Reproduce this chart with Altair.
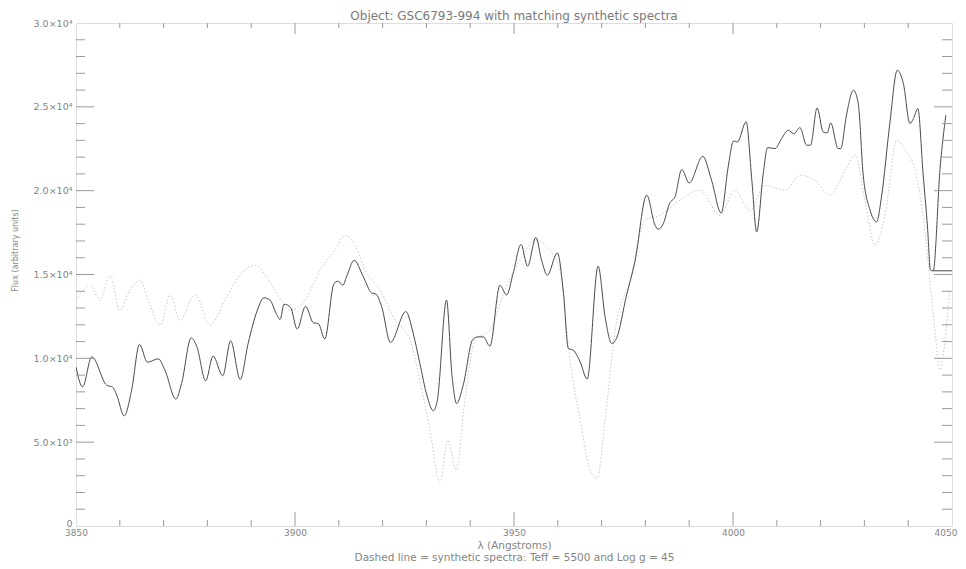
import altair as alt
import pandas as pd

# ---- observed spectrum (solid line) ----
obs_wl = [3850.0, 3851.5, 3853.6, 3857.0, 3858.4, 3859.3, 3861.0, 3862.7, 3864.5, 3866.3,
          3868.8, 3870.3, 3872.8, 3874.1, 3876.3, 3877.6, 3879.6, 3881.3, 3883.5, 3885.3,
          3887.5, 3889.3, 3891.4, 3892.9, 3894.3, 3895.7, 3896.6, 3897.5, 3899.0, 3900.5,
          3902.4, 3904.2, 3905.3, 3906.8, 3908.9, 3909.9, 3910.9, 3911.9, 3913.5, 3915.6,
          3917.5, 3918.5, 3919.8, 3921.8, 3925.3, 3927.0, 3928.5, 3930.1, 3931.6, 3932.5,
          3934.6, 3935.8, 3936.9, 3938.4, 3940.6, 3941.8, 3943.0, 3944.5, 3946.8, 3948.3,
          3949.8, 3951.6, 3953.1, 3955.0, 3956.3, 3957.6, 3959.9, 3961.3, 3962.4, 3963.5,
          3965.1, 3966.7, 3969.2, 3970.8, 3972.3, 3973.4, 3975.7, 3977.6, 3980.3, 3982.2,
          3982.9, 3984.1, 3985.5, 3986.8, 3988.3, 3990.0, 3993.1, 3995.1, 3997.3, 3998.9,
          4000.1, 4001.0, 4003.0, 4004.3, 4005.4, 4006.9, 4007.9, 4009.6, 4011.1, 4012.6,
          4013.9, 4015.3, 4016.8, 4017.7, 4019.2, 4020.6, 4021.5, 4022.3, 4024.0, 4024.6,
          4025.9, 4027.5, 4028.6, 4029.7, 4031.3, 4032.8, 4033.9, 4035.8, 4037.5, 4038.9,
          4040.4, 4041.2, 4042.2, 4043.4, 4044.4, 4045.1, 4045.7, 4047.3, 4048.6]
obs_flux = [9480, 8300, 10090, 8400, 8270, 7810, 6570, 8100, 10830, 9770,
            9970, 9300, 7570, 8500, 11220, 10690, 8660, 10130, 8960, 11040,
            8740, 10890, 12870, 13610, 13470, 12680, 12320, 13230, 13030, 11740,
            13110, 12120, 12080, 11160, 14460, 14600, 14360, 14960, 15850, 14860,
            13900, 13830, 13070, 10950, 12790, 11480, 9700, 7810, 6870, 7510,
            13470, 9100, 7310, 8400, 11130, 11280, 11280, 10730, 14360, 13770,
            15060, 16790, 15500, 17210, 15850, 14960, 16290, 13870, 10590, 10490,
            9790, 8760, 15500, 12470, 10890, 11190, 13770, 15750, 19730, 17940,
            17700, 18040, 19230, 19670, 21260, 20460, 22050, 20620, 18670, 21410,
            22960, 22900, 24100, 20620, 17540, 21010, 22570, 22510, 23110, 23600,
            23400, 23760, 22710, 22710, 24930, 23500, 23440, 24040, 22510, 22510,
            24500, 25990, 25190, 21010, 18830, 18140, 19630, 24000, 27180, 26380,
            24000, 24300, 24900, 21010, 17840, 15260, 15220, 21410, 24500]
# short flat piece at the right edge
edge_wl = [4045.7, 4050.0]
edge_flux = [15220, 15220]

# ---- synthetic spectrum (dotted line) ----
syn_wl = [3850.0, 3853.2, 3855.5, 3857.8, 3860.0, 3862.3, 3864.6, 3866.9, 3869.2, 3871.5,
          3873.7, 3877.2, 3880.6, 3884.0, 3887.4, 3890.9, 3893.2, 3895.4, 3898.9, 3902.3,
          3905.7, 3909.1, 3911.4, 3913.7, 3916.0, 3919.4, 3922.8, 3926.3, 3928.5, 3930.8,
          3933.1, 3934.9, 3936.8, 3938.8, 3941.1, 3944.5, 3947.9, 3951.4, 3954.8, 3958.2,
          3960.5, 3962.8, 3965.1, 3967.4, 3969.0, 3970.8, 3973.1, 3976.5, 3979.9, 3983.3,
          3987.9, 3992.5, 3997.0, 4000.5, 4003.9, 4007.3, 4011.9, 4015.3, 4018.7, 4022.1,
          4025.6, 4027.9, 4030.1, 4032.4, 4034.7, 4037.4, 4039.3, 4041.6, 4043.8, 4046.1,
          4047.3, 4048.4, 4049.5]
syn_flux = [13470, 14360, 13470, 14960, 12870, 14060, 14660, 13170, 11980, 13770,
            12280, 13770, 11980, 13470, 14960, 15550, 14960, 14070, 12870, 13470,
            15260, 16450, 17340, 16750, 15260, 14070, 12280, 11090, 8700, 5720,
            2620, 5130, 3340, 7510, 11090, 11680, 14070, 15850, 17050, 16450,
            15260, 9890, 6320, 3340, 2860, 6320, 11680, 14660, 18240, 18530,
            19430, 20030, 18530, 20030, 18830, 20320, 20030, 20920, 20620, 19730,
            21220, 22110, 19430, 16750, 18530, 23010, 22410, 21220, 17640, 11680,
            9300, 11090, 14070]

# ---- axes ----
x_major = [3850, 3900, 3950, 4000, 4050]
x_minor = [v for v in range(3850, 4051, 10) if v % 50 != 0]
y_major = [0, 5000, 10000, 15000, 20000, 25000, 30000]
y_minor = [v for v in range(0, 30001, 1000) if v % 5000 != 0]

W, H = 876, 503
AX = "#9a9a9a"
TXT = "#858585"
FONT = "DejaVu Sans"

lines = pd.concat([
    pd.DataFrame({"wl": obs_wl, "flux": obs_flux, "series": "observed", "seg": "a"}),
    pd.DataFrame({"wl": edge_wl, "flux": edge_flux, "series": "observed", "seg": "b"}),
    pd.DataFrame({"wl": syn_wl, "flux": syn_flux, "series": "synthetic", "seg": "c"}),
])

xs = alt.Scale(domain=[3850, 4050], nice=False, zero=False)
ys = alt.Scale(domain=[0, 30000], nice=False, zero=False)

xaxis = alt.Axis(values=x_major, ticks=False, domain=False, grid=False, format="d",
                 labelFontSize=9, labelColor=TXT, labelFont=FONT, labelPadding=2,
                 labelFlush=False,
                 labelAlign=alt.condition("datum.value == 4050", alt.value("right"), alt.value("center")),
                 labelOffset=alt.condition("datum.value == 4050", alt.value(5), alt.value(0)),
                 title=["λ (Angstroms)", "Dashed line = synthetic spectra: Teff = 5500 and Log g = 45"],
                 titleFontSize=10.5, titleFontWeight="normal", titleColor=TXT, titleFont=FONT,
                 titlePadding=3, titleLineHeight=12)
yaxis = alt.Axis(values=y_major, ticks=False, domain=False, grid=False,
                 labelExpr="datum.value == 0 ? '0' : (datum.value < 10000 ? format(datum.value/1000, '.1f') + '×10³' : format(datum.value/10000, '.1f') + '×10⁴')",
                 labelFontSize=9.5, labelColor=TXT, labelFont=FONT, labelPadding=4,
                 labelFlush=False,
                 labelOffset=alt.condition("datum.value == 0", alt.value(-3), alt.value(0)),
                 title="Flux (arbitrary units)", titleFontSize=8, titleFontWeight="normal",
                 titleColor=TXT, titleFont=FONT, titleX=-57, titleY=227)

syn = alt.Chart(lines).transform_filter("datum.series == 'synthetic'").mark_line(
    color="#c8c8c8", strokeWidth=1, strokeDash=[1.5, 2], clip=True, interpolate="monotone"
).encode(
    x=alt.X("wl:Q", scale=xs, axis=xaxis),
    y=alt.Y("flux:Q", scale=ys, axis=yaxis),
    detail="seg:N",
)
obs = alt.Chart(lines).transform_filter("datum.series == 'observed'").mark_line(
    color="#4a4a4a", strokeWidth=1, clip=True, interpolate="monotone"
).encode(
    x=alt.X("wl:Q", scale=xs),
    y=alt.Y("flux:Q", scale=ys),
    detail="seg:N",
)

xmaj = pd.DataFrame({"v": x_major[1:-1]})
xmin = pd.DataFrame({"v": x_minor})
ymaj = pd.DataFrame({"v": y_major[1:-1]})
ymin = pd.DataFrame({"v": y_minor})

def xticks(df, y0, y1):
    return alt.Chart(df).mark_rule(color=AX, strokeWidth=1).encode(
        x=alt.X("v:Q", scale=xs), y=alt.value(y0), y2=alt.value(y1))

def yticks(df, x0, x1):
    return alt.Chart(df).mark_rule(color=AX, strokeWidth=1).encode(
        y=alt.Y("v:Q", scale=ys), x=alt.value(x0), x2=alt.value(x1))

ticks = [
    xticks(xmaj, H, H - 14), xticks(xmin, H, H - 6),
    xticks(xmaj, 0, 11), xticks(xmin, 0, 5),
    yticks(ymaj, 0, 18), yticks(ymin, 0, 9),
    yticks(ymaj, W, W - 18), yticks(ymin, W, W - 10),
]

chart = alt.layer(syn, obs, *ticks).properties(
    width=W, height=H,
    title=alt.TitleParams(
        text="Object: GSC6793-994 with matching synthetic spectra",
        fontSize=12, font=FONT, color="#7a7a7a", fontWeight="normal",
        anchor="middle", offset=-5),
    autosize=alt.AutoSizeParams(type="none"),
    padding={"left": 68, "top": 15, "right": 6, "bottom": 40},
).configure_view(stroke=AX, strokeWidth=1).configure(background="white")

chart.save("out.html", embed_options={"renderer": "svg", "actions": False})
